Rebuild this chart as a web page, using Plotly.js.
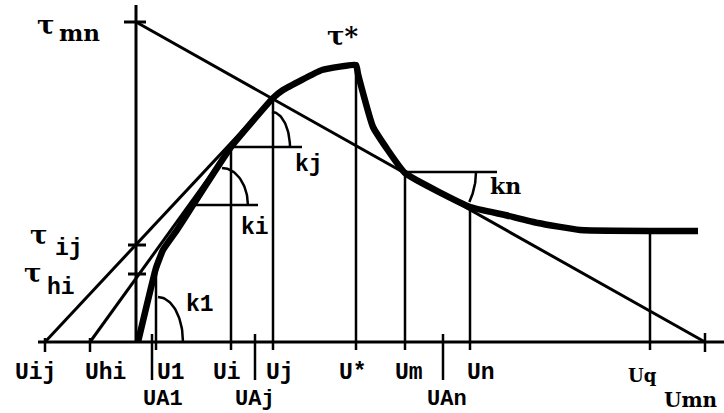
<!DOCTYPE html>
<html>
<head>
<meta charset="utf-8">
<script src="https://cdn.plot.ly/plotly-3.0.1.min.js"></script>
<style>
  html, body { margin: 0; padding: 0; background: #fff; }
  #chart { width: 724px; height: 413px; }
</style>
</head>
<body>
<div id="chart"></div>
<script>
// Shear stress τ versus displacement U: the bold stress path and its construction lines.
const curveU   = [2, 20, 27, 41, 57, 95, 137, 147, 186, 220, 222, 237, 269, 334, 369, 402, 444, 562];
const curveTau = [0, 74, 92, 112, 137, 195, 244, 252, 272, 277, 268, 215, 169, 135, 127, 119, 112, 111];

// Characteristic displacements on the U axis
const dropNames  = ['U1', 'Ui', 'Uj', 'U*', 'Um', 'Un', 'Uq'];
const dropValues = [20, 95, 137, 220, 269, 334, 514];

const interceptNames  = ['Uij', 'Uhi', 'Umn'];
const interceptValues = [-91, -46, 569];

const anchorNames  = ['UA1', 'UAj', 'UAn'];
const anchorValues = [16, 119, 307];

// Stress levels on the τ axis
const tauNames  = ['mn', 'ij', 'hi'];
const tauValues = [320, 97, 68];

// Angle marks: name, vertex U, vertex τ
const angleNames  = ['k1', 'ki', 'kj', 'kn'];
const angleU      = [22, 57, 95, 269];
const angleTau    = [0, 137, 195, 169];

// ---------------------------------------------------------------
function tauAt(u) {
  for (let i = 0; i < curveU.length - 1; i++) {
    if (u >= curveU[i] && u <= curveU[i + 1]) {
      const t = (u - curveU[i]) / (curveU[i + 1] - curveU[i]);
      return curveTau[i] + t * (curveTau[i + 1] - curveTau[i]);
    }
  }
  return curveTau[curveTau.length - 1];
}
const val = (arr, names, n) => arr[names.indexOf(n)];

const BLACK = '#000';
const traces = [];
function seg(x, y, w) {
  traces.push({ x, y, mode: 'lines', type: 'scatter', hoverinfo: 'skip',
                line: { color: BLACK, width: w, shape: 'linear' } });
}

// axes
seg([-98, 588], [0, 0], 3);
seg([0, 0], [0, 337], 3);

// τ-axis ticks
tauValues.forEach((t, i) => seg([i === 0 ? -12 : -8, 10], [t, t], 3));

// intercept ticks on the U axis
interceptValues.forEach((u, i) => seg([u, u], [i === 2 ? 9 : 4, -10], 2.5));
// anchor ticks, reaching down to the second label row
anchorValues.forEach(u => seg([u, u], [8, -38], 2.5));

// drop lines from the stress path to the U axis
dropValues.forEach(u => seg([u, u], [tauAt(u), -8], 2.5));

// secant line τmn – Umn
const tauMn = val(tauValues, tauNames, 'mn');
const uMn = val(interceptValues, interceptNames, 'Umn');
seg([0, uMn], [tauMn, 0], 3);

// tangent lines through τij and τhi
const uIj = val(interceptValues, interceptNames, 'Uij');
const uHi = val(interceptValues, interceptNames, 'Uhi');
const uJ = val(dropValues, dropNames, 'Uj');
const uI = val(dropValues, dropNames, 'Ui');
seg([uIj, uJ], [0, tauAt(uJ)], 3);
seg([uHi, uI], [0, tauAt(uI)], 3);

// horizontal reference rays for the angles
seg([angleU[1], 122], [angleTau[1], angleTau[1]], 2.5);
seg([angleU[2], 166], [angleTau[2], angleTau[2]], 2.5);
seg([angleU[3], 361], [angleTau[3] + 1, angleTau[3] + 1], 2.5);

// angle arcs (elliptic quarter arcs, last one a short circular arc)
function arc(cx, cy, rx, ry, a0, a1) {
  const xs = [], ys = [];
  for (let k = 0; k <= 30; k++) {
    const a = (a0 + (a1 - a0) * k / 30) * Math.PI / 180;
    xs.push(cx + rx * Math.cos(a));
    ys.push(cy + ry * Math.sin(a));
  }
  seg(xs, ys, 2.5);
}
arc(angleU[0], 0, 25, 45, 90, 0);
arc(86, angleTau[1] - 1, 26, 38, 90, 0);
arc(136, angleTau[2] - 1, 18, 36, 90, 0);
arc(angleU[3], angleTau[3] + 1, 71, 71, 0, -25);

// the stress path itself
traces.push({ x: curveU, y: curveTau, mode: 'lines', type: 'scatter', hoverinfo: 'skip',
              line: { color: BLACK, width: 6.5, shape: 'spline', smoothing: 0.35 } });

// ---------------------------------------------------------------
const MONO = 'Liberation Mono';
const SERIF = 'DejaVu Serif';
const annotations = [];
function label(text, x, y, family, size, anchor) {
  annotations.push({ text, x, y, xref: 'x', yref: 'y', showarrow: false,
                     xanchor: 'center', yanchor: anchor || 'middle', borderpad: 0,
                     font: { family, size, color: BLACK, weight: 700 } });
}

// first row of U labels
const rowOneShift = { 'U1': 15, 'Ui': -4, 'Uj': 7, 'U*': -3, 'Um': 4, 'Un': 11, 'Uq': -8 };
dropNames.forEach((n, i) => {
  const serif = n === 'Uq';
  label(n, dropValues[i] + rowOneShift[n], serif ? -33 : -31, serif ? SERIF : MONO, serif ? 18 : 23);
});
label('Uij', uIj - 10, -31, MONO, 23);
label('Uhi', uHi + 15, -31, MONO, 23);
// second row, resting on the bottom edge
label('UA1', anchorValues[0] + 11, -71, MONO, 22, 'bottom');
label('UAj', anchorValues[1] + 0, -71, MONO, 22, 'bottom');
label('UAn', anchorValues[2] + 4, -71, MONO, 22, 'bottom');
label('Umn', uMn - 14, -71, SERIF, 20, 'bottom');

// τ labels
label('τ', -90, 317, SERIF, 26);
label('mn', -57, 310, SERIF, 23);
label('τ', -97, 107, SERIF, 26);
label('ij', -67, 93, MONO, 23);
label('τ', -103, 69, SERIF, 26);
label('hi', -75, 54, MONO, 23);
label('τ*', 206, 306, SERIF, 26);

// angle labels
label('k1', 64, 37, MONO, 23);
label('ki', 119, 114, MONO, 23);
label('kj', 173, 177, MONO, 23);
label('kn', 369, 156, SERIF, 22);

const hidden = { visible: false, fixedrange: true, showgrid: false, zeroline: false };
const layout = {
  width: 724, height: 413,
  margin: { l: 0, r: 0, t: 0, b: 0, pad: 0 },
  paper_bgcolor: '#fff', plot_bgcolor: '#fff',
  showlegend: false,
  xaxis: Object.assign({ range: [-136, 588] }, hidden),
  yaxis: Object.assign({ range: [-71, 342] }, hidden),
  annotations
};

Plotly.newPlot('chart', traces, layout, { displayModeBar: false, staticPlot: true });
</script>
</body>
</html>
